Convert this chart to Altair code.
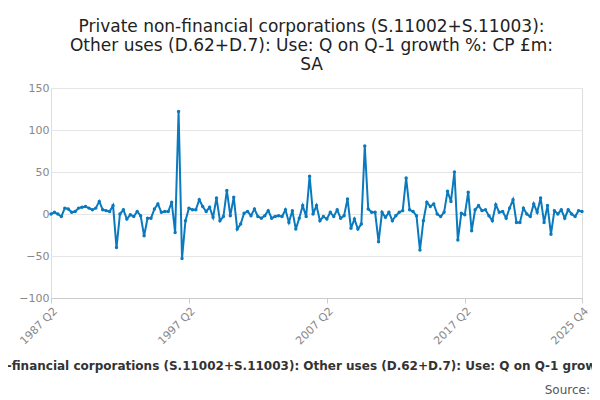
import pandas as pd
import altair as alt

seg1 = [0, 2, 0, -3, 7, 6, 2, 3, 7, 8, 9, 7, 5, 7, 15, 5, 4, 3, 10, -40,
        0, 5, -6, -1, -3, 3, -2, -26, -5, -5, 6, 12, 2, 3, 3, 14, -22, 122, -53]
seg2 = [-8, 7, 5, 5, 17, 9, 3, 8, -4, 19, -8, -3, 28, -2, 20, -18, -12, 1, 3, -2,
        6, -3, -5, -2, 4, -5, -3, -2, -3, 5, -10, 4, -18, -5, 10, -3, 45,
        0, 10, -8, -3, -6, 2, -3, 5, -5, -2, 18, -17, -6, -18, -12, 81]
seg3 = [6, 2, 2, -33, 2, -4, 2, -8, -2, 2, 4, 43, 5, 3, -2, -43, -8, 14, 9, 12,
        0, -3, 2, 27, 15, 50, -31, 1, -1, 26, -20]
seg4 = [5, 10, 4, 5, -2, -8, 11, 2, 3, -5, 7, 17, -10, -10, 7, 0, -3, 12, 2, 19,
        -10, 10, -24, 4, 0, 5, -5, 5, 0, -3, 4, 3]
values = seg1 + seg2 + seg3 + seg4

labels = []
for i in range(len(values)):
    q = i + 1
    labels.append(f"{1987 + q // 4} Q{q % 4 + 1}")

df = pd.DataFrame({"i": list(range(len(values))), "v": values, "label": labels})

label_expr = ("(1987 + floor((datum.value + 1) / 4)) + ' Q' + ((datum.value + 1) % 4 + 1)")
long_title = "Private non-financial corporations (S.11002+S.11003): Other uses (D.62+D.7): Use: Q on Q-1 growth %: CP £m: SA"

base = alt.Chart(df).encode(
    x=alt.X("i:Q", title=long_title, scale=alt.Scale(domain=[0, len(values) - 1], nice=False),
            axis=alt.Axis(values=[0, 40, 80, 120, 154], labelExpr=label_expr, labelAngle=-45,
                          grid=False, labelColor="#888", labelFontSize=11, tickColor="#ccc",
                          domainColor="#ccc", titleFontSize=12, titleFontWeight="bold",
                          titleColor="#333", titlePadding=14)),
    y=alt.Y("v:Q", title=None, scale=alt.Scale(domain=[-100, 150]),
            axis=alt.Axis(values=[-100, -50, 0, 50, 100, 150], domain=False, ticks=False,
                          labelColor="#888", labelFontSize=11, gridColor="#e6e6e6")),
    tooltip=["label:N", "v:Q"],
)

line = base.mark_line(color="#0a7abf", strokeWidth=2, point=alt.OverlayMarkDef(color="#0a7abf", size=12))

source = alt.Chart(pd.DataFrame({"t": ["Source:"]})).mark_text(
    align="right", fontSize=12, color="#555"
).encode(text="t:N", x=alt.value(539), y=alt.value(302))

chart = alt.layer(line, source).properties(
    width=531, height=210,
    autosize=alt.AutoSizeParams(type="none"),
    padding={"left": 43, "top": 80, "right": 10, "bottom": 100},
    title=alt.Title(["Private non-financial corporations (S.11002+S.11003):",
                     "Other uses (D.62+D.7): Use: Q on Q-1 growth %: CP £m:", "SA"],
                    fontSize=17, fontWeight="normal", color="#222", anchor="middle", offset=8,
                    dx=-5),
).configure_view(stroke=None).configure(font="DejaVu Sans")

chart.save("out.html", embed_options={"renderer": "svg", "actions": False})
